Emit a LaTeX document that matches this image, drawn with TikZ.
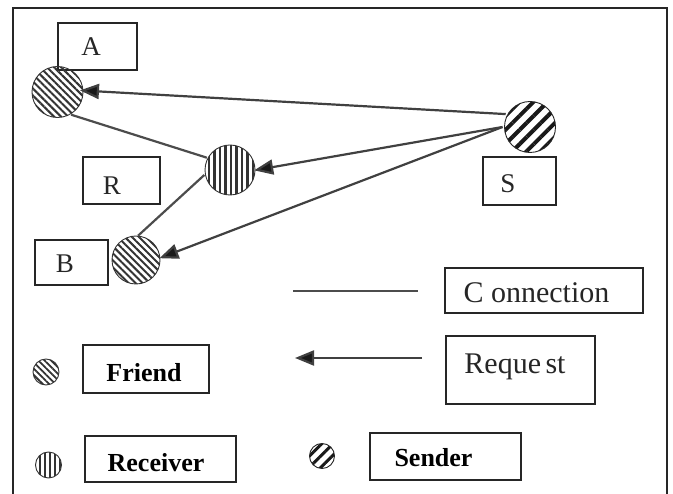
\documentclass[tikz,border=0pt]{standalone}
\usepackage{fontspec}
\setmainfont{Liberation Serif}
\usetikzlibrary{patterns.meta,arrows.meta}
\begin{document}
\begin{tikzpicture}[x=1pt,y=-1pt,
  box/.style={draw=black!85,line width=1.8pt,inner sep=0pt,rectangle},
  lett/.style={font=\fontsize{27}{27}\selectfont,text=black!85,inner sep=0pt,anchor=base},
  legtxt/.style={font=\fontsize{30}{30}\selectfont,text=black!85,inner sep=0pt,anchor=base},
  boldtxt/.style={font=\bfseries\fontsize{26}{26}\selectfont,text=black,inner sep=0pt,anchor=base},
  friend/.style={circle,draw=black!80,line width=0.9pt,inner sep=0pt,
    pattern={Lines[angle=-45,distance=5pt,line width=2pt]},pattern color=black!80},
  receiver/.style={circle,draw=black!80,line width=0.9pt,inner sep=0pt,
    pattern={Lines[angle=90,distance=5.5pt,line width=2.3pt]},pattern color=black!80},
  sender/.style={circle,draw=black!85,line width=0.9pt,inner sep=0pt,
    pattern={Lines[angle=45,distance=10pt,line width=4pt]},pattern color=black!90},
  conn/.style={draw=black!70,line width=2.2pt},
  req/.style={draw=black!75,line width=2.2pt,-{Triangle[length=19pt,width=15pt,fill=black!90]}},
  frame/.style={draw=black!85,line width=1.8pt}
]
\useasboundingbox (0,0) rectangle (673,494);
% outer frame
\coordinate (f1) at (13,494);
\coordinate (f2) at (13,8);
\coordinate (f3) at (667,8);
\coordinate (f4) at (667,494);
\draw[frame] (f1) -- (f2) -- (f3) -- (f4);

% label boxes
\node[box,minimum width=79pt,minimum height=47pt] (boxA) at (97.5,46.5) {};
\node[lett] (tA) at (91,56) {A};
\node[box,minimum width=77pt,minimum height=47pt] (boxR) at (121.5,180.5) {};
\node[lett] (tR) at (112,195) {R};
\node[box,minimum width=73pt,minimum height=45pt] (boxB) at (71.5,262.5) {};
\node[lett] (tB) at (65,273) {B};
\node[box,minimum width=73pt,minimum height=48pt] (boxS) at (519.5,181) {};
\node[lett] (tS) at (508,193) {S};

% circles
\node[friend,minimum size=51pt] (A) at (57.5,92) {};
\node[receiver,minimum size=50pt] (R) at (230,170) {};
\node[friend,minimum size=48pt] (B) at (136,260) {};
\node[sender,minimum size=51pt] (S) at (530,127) {};

% connections
\draw[conn] (A.-59) -- (R.152);
\draw[conn] (R.-169) -- (B.85);

% requests
\draw[req,shorten >=-4pt] (S.152) -- (A.3);
\draw[req,shorten >=-2pt] (S.180) -- (R.east);
\draw[req,shorten >=-1pt] (S.180) -- (B.5);

% legend: connection / request
\coordinate (lc1) at (293,291);
\coordinate (lc2) at (418,291);
\draw[conn] (lc1) -- (lc2);
\node[box,minimum width=198pt,minimum height=45pt] (boxConn) at (544,290.5) {};
\node[legtxt] (tConn) at (536.5,303) {C\hspace{0.25em}onnection};
\coordinate (lr1) at (422,358);
\coordinate (lr2) at (295,358);
\draw[req] (lr1) -- (lr2);
\node[box,minimum width=149pt,minimum height=68pt] (boxReq) at (520.5,370) {};
\node[legtxt] (tReq) at (515,374) {Reque\hspace{0.15em}st};

% legend: node kinds
\node[friend,minimum size=26pt,pattern={Lines[angle=-45,distance=4.5pt,line width=1.8pt]}] (lf) at (46,372) {};
\node[box,minimum width=126pt,minimum height=48pt] (boxFr) at (146,369) {};
\node[boldtxt] (tFr) at (144,382) {Friend};
\node[receiver,minimum size=26pt,pattern={Lines[angle=90,distance=5pt,line width=2.2pt]}] (lrv) at (48.5,465) {};
\node[box,minimum width=151pt,minimum height=46pt] (boxRc) at (160.5,459) {};
\node[boldtxt] (tRc) at (156,472) {Receiver};
\node[sender,minimum size=25pt,pattern={Lines[angle=45,distance=8pt,line width=3pt]}] (ls) at (322,456) {};
\node[box,minimum width=151pt,minimum height=47pt] (boxSd) at (445.5,456.5) {};
\node[boldtxt] (tSd) at (433.5,467) {Sender};
\end{tikzpicture}
\end{document}
